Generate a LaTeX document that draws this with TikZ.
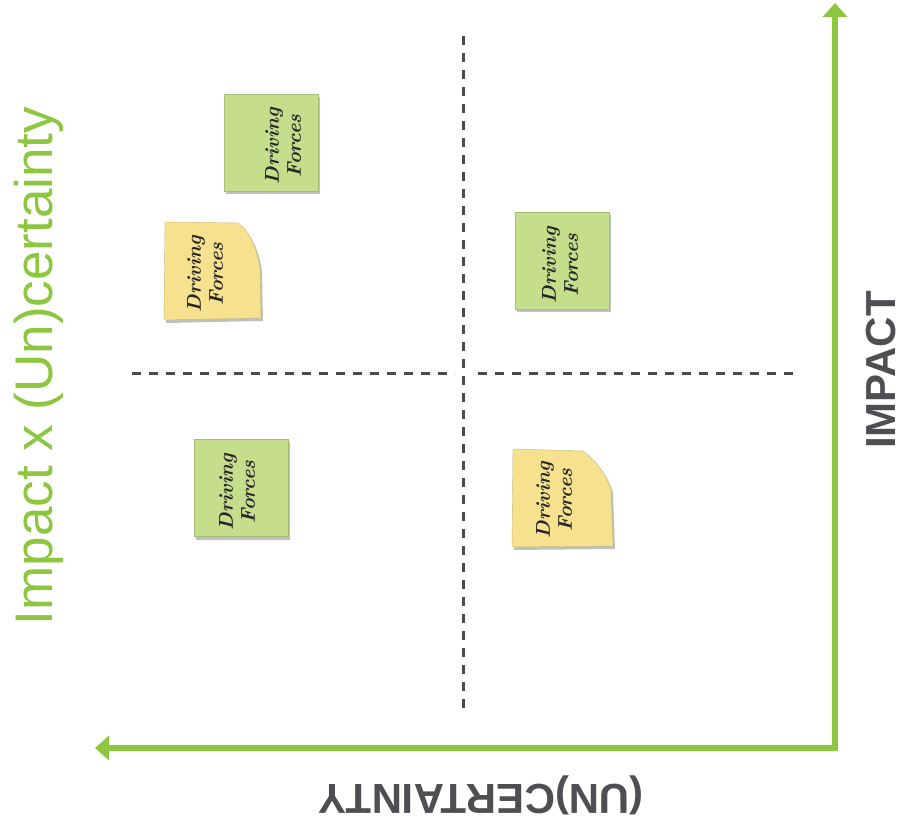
\documentclass[tikz,border=0pt]{standalone}
\usepackage{fontspec}
\newfontfamily\arialfont{Liberation Sans}
\usetikzlibrary{arrows.meta,shadows}
\definecolor{axisgreen}{RGB}{141,198,63}
\definecolor{notegreen}{RGB}{196,222,140}
\definecolor{noteyellow}{RGB}{245,225,142}
\definecolor{labelgray}{RGB}{77,79,83}
\definecolor{dashgray}{RGB}{75,75,75}
\begin{document}
\begin{tikzpicture}[x=1pt,y=-1pt,
  axis/.style={draw=axisgreen, line width=5.5pt, line join=miter},
  dashline/.style={draw=dashgray, line width=3pt, dash pattern=on 9pt off 8pt},
  softshadow/.style={drop shadow={shadow xshift=2pt, shadow yshift=-3pt, opacity=0.25, fill=black}},
  gnote/.style={rectangle, fill=notegreen, draw=notegreen!85!black, line width=0.4pt,
    minimum width=94pt, minimum height=97pt, inner sep=0pt, softshadow},
  ynote/.style={fill=noteyellow, draw=noteyellow!82!black, line width=0.4pt, softshadow},
  hand/.style={rotate=90, align=center, inner sep=0pt,
    font=\fontsize{20}{22}\selectfont\bfseries\itshape, text=black!85},
  biglabel/.style={font=\arialfont\fontsize{53}{60}\selectfont, text=axisgreen, inner sep=0pt},
  axislabel/.style={font=\arialfont\bfseries\fontsize{42}{48}\selectfont, text=labelgray, inner sep=0pt}
  ]
\fill[white] (0,0) rectangle (903,834);
\useasboundingbox (0,0) rectangle (903,834);

% dashed quadrant lines
\coordinate (vtop) at (463,36);
\coordinate (vbot) at (463,713);
\coordinate (hl1) at (132,374);
\coordinate (hl2) at (455,374);
\coordinate (hr1) at (478,374);
\coordinate (hr2) at (795,374);
\draw[dashline] (vtop) -- (vbot);
\draw[dashline] (hl1) -- (hl2);
\draw[dashline] (hr1) -- (hr2);

% axes
\coordinate (corner) at (835,748);
\coordinate (ytip) at (835,3);
\coordinate (xtip) at (95,748);
\draw[axis, {Triangle[width=24pt,length=14pt]}-{Triangle[width=24pt,length=14pt]}] (ytip) -- (corner) -- (xtip);

% green notes
\node[gnote] (n1) at (271,143) {};
\node[gnote] (n3) at (562,261) {};
\node[gnote] (n5) at (241,488) {};

% yellow notes (curled top-right corner)
\path[ynote] (165,222) -- (238,223) .. controls (250,231) and (257,249) .. (260,268) -- (261,318) -- (164,320) -- cycle;
\path[ynote] (513,449) -- (583,451) .. controls (597,461) and (607,476) .. (611,490) -- (613,546) -- (512,547) -- cycle;

% note texts
\node[hand] (t1) at (283,146) {Driving\\Forces};
\node[hand] (t2) at (205,274) {Driving\\Forces};
\node[hand] (t3) at (560,265) {Driving\\Forces};
\node[hand] (t4) at (554,500) {Driving\\Forces};
\node[hand] (t5) at (237,492) {Driving\\Forces};

% labels
\node[biglabel, rotate=90, anchor=base] (ylab) at (52,366) {Impact x (Un)certainty};
\node[axislabel, rotate=90, anchor=base] (impact) at (895,370) {IMPACT};
\node[axislabel, rotate=180, anchor=base] (uncert) at (481,784) {(UN)CERTAINTY};
\end{tikzpicture}
\end{document}
